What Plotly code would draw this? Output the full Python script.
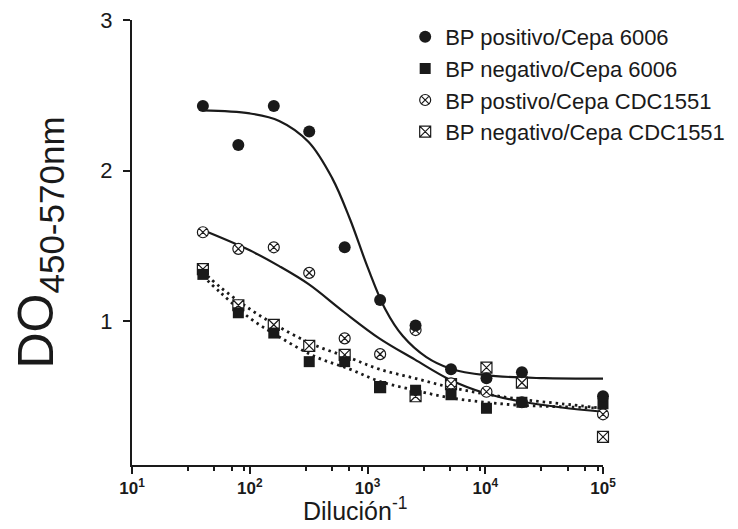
import plotly.graph_objects as go

# ---- data ----
dilution = [40, 80, 160, 320, 640, 1280, 2560, 5120, 10240, 20480, 100000]
pos_6006 = [2.43, 2.17, 2.43, 2.26, 1.49, 1.14, 0.97, 0.68, 0.62, 0.66, 0.50]
neg_6006 = [1.31, 1.055, 0.92, 0.73, 0.73, 0.56, 0.54, 0.51, 0.42, 0.46, 0.45]
pos_cdc = [1.59, 1.48, 1.49, 1.32, 0.885, 0.78, 0.94, 0.585, 0.53, 0.46, 0.38]
neg_cdc = [1.345, 1.105, 0.975, 0.835, 0.775, 0.56, 0.50, 0.58, 0.69, 0.59, 0.23]

# fitted curves (log10 dilution, value)
fit_pos6006_logx = [1.6, 2.0, 2.25, 2.5, 2.7, 2.85, 3.0, 3.15, 3.3, 3.5, 3.7, 4.0, 4.5, 5.0]
fit_pos6006_y = [2.40, 2.38, 2.33, 2.19, 1.95, 1.68, 1.36, 1.08, 0.90, 0.76, 0.685, 0.64, 0.62, 0.617]
fit_poscdc_logx = [1.6, 2.0, 2.25, 2.5, 2.8, 3.1, 3.4, 3.7, 4.0, 4.3, 4.65, 5.0]
fit_poscdc_y = [1.605, 1.47, 1.365, 1.245, 1.06, 0.885, 0.745, 0.61, 0.52, 0.465, 0.425, 0.397]
fit_negcdc_logx = [1.6, 1.75, 2.0, 2.25, 2.55, 2.85, 3.1, 3.4, 3.7, 4.0, 4.3, 4.65, 5.0]
fit_negcdc_y = [1.33, 1.225, 1.08, 0.96, 0.84, 0.755, 0.68, 0.62, 0.56, 0.515, 0.48, 0.45, 0.42]
fit_neg6006_logx = [1.6, 1.75, 2.0, 2.25, 2.55, 2.85, 3.1, 3.4, 3.7, 4.0, 4.3, 4.65, 5.0]
fit_neg6006_y = [1.30, 1.19, 1.02, 0.895, 0.765, 0.68, 0.60, 0.54, 0.49, 0.46, 0.44, 0.43, 0.42]

x_tickvals = [10, 100, 1000, 10000, 100000]
x_ticktext = ["<b>10<sup>1</sup></b>", "<b>10<sup>2</sup></b>", "<b>10<sup>3</sup></b>",
              "<b>10<sup>4</sup></b>", "<b>10<sup>5</sup></b>"]
x_minor = [m * 10 ** e for e in range(1, 5) for m in (3, 5, 7, 9)]
y_tickvals = [1, 2, 3]

INK = "#1a1a1a"
fig = go.Figure()

def curve(logx, y, dash, width):
    fig.add_trace(go.Scatter(
        x=[10 ** v for v in logx], y=y, mode="lines", showlegend=False,
        line=dict(color=INK, width=width, dash=dash, shape="spline", smoothing=1.0),
        hoverinfo="skip"))

curve(fit_pos6006_logx, fit_pos6006_y, "solid", 2.2)
curve(fit_poscdc_logx, fit_poscdc_y, "solid", 2.2)
curve(fit_negcdc_logx, fit_negcdc_y, "2.5px,4px", 2.8)
curve(fit_neg6006_logx, fit_neg6006_y, "2.5px,4px", 2.8)

fig.add_trace(go.Scatter(
    x=dilution, y=neg_cdc, mode="markers", name="BP negativo/Cepa CDC1551", legendrank=4,
    cliponaxis=False,
    marker=dict(symbol="square-x", size=11, color="white", line=dict(color=INK, width=1.2))))
fig.add_trace(go.Scatter(
    x=dilution, y=pos_cdc, mode="markers", name="BP postivo/Cepa CDC1551", legendrank=3,
    cliponaxis=False,
    marker=dict(symbol="circle-x", size=11, color="white", line=dict(color=INK, width=1.2))))
fig.add_trace(go.Scatter(
    x=dilution, y=neg_6006, mode="markers", name="BP negativo/Cepa 6006", legendrank=2,
    cliponaxis=False,
    marker=dict(symbol="square", size=11, color=INK)))
fig.add_trace(go.Scatter(
    x=dilution, y=pos_6006, mode="markers", name="BP positivo/Cepa 6006", legendrank=1,
    cliponaxis=False,
    marker=dict(symbol="circle", size=12, color=INK)))

fig.add_annotation(
    text="Dilución<sup>-1</sup>", xref="paper", yref="paper", x=0.474, y=-0.098,
    xanchor="center", yanchor="middle", showarrow=False,
    font=dict(size=25, family="Liberation Sans Narrow, Arial Narrow, sans-serif", color=INK))

# page body adds an 8px margin, so the figure is offset by 8px in the window
fig.update_layout(
    width=730, height=521,
    margin=dict(l=124, r=135, t=12, b=64, autoexpand=False),
    paper_bgcolor="white", plot_bgcolor="white",
    font=dict(family="Liberation Sans, Arial, sans-serif", color=INK),
    showlegend=True,
    legend=dict(x=0.58, y=1.009, xanchor="left", yanchor="top",
                font=dict(size=22, color=INK), bgcolor="rgba(0,0,0,0)",
                itemwidth=30, tracegroupgap=5),
    xaxis=dict(
        type="log", range=[1, 5], showgrid=False, zeroline=False,
        showline=True, linecolor=INK, linewidth=2,
        ticks="outside", ticklen=7, tickwidth=2, tickcolor=INK,
        tickvals=x_tickvals, ticktext=x_ticktext,
        tickfont=dict(size=17, family="Liberation Sans, Arial", color=INK),
        ticklabeloverflow="allow",
        minor=dict(tickvals=x_minor, ticks="outside", ticklen=4, tickwidth=1.5, tickcolor=INK),
    ),
    yaxis=dict(
        range=[0.043, 3.001], showgrid=False, zeroline=False,
        showline=True, linecolor=INK, linewidth=2,
        ticks="outside", ticklen=7, tickwidth=2, tickcolor=INK,
        tickvals=y_tickvals, tickfont=dict(size=22, color=INK),
        ticklabelstandoff=6, ticklabeloverflow="allow",
        title=dict(text="DO<sub>450-570nm</sub>", font=dict(size=50, color=INK), standoff=36),
    ),
)

fig.write_html("out.html")
